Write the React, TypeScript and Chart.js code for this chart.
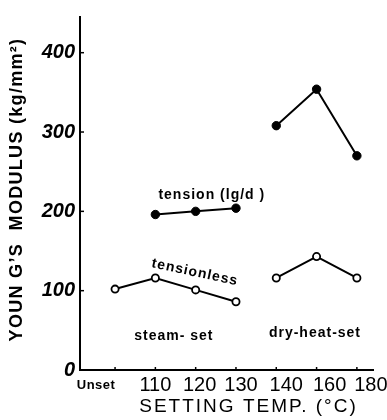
import { useEffect, useRef } from 'react';
import { Chart, registerables } from 'chart.js';

Chart.register(...registerables);

// ---- data ----
const categories = ['Unset', '110', '120', '130', '140', '160', '180'];
const yTicks = [0, 100, 200, 300, 400];

const tensionSteamX = [1, 2, 3];
const tensionSteam = [196, 200, 204];
const tensionDryX = [4, 5, 6];
const tensionDry = [308, 354, 270];

const tensionlessSteamX = [0, 1, 2, 3];
const tensionlessSteam = [102, 116, 101, 86];
const tensionlessDryX = [4, 5, 6];
const tensionlessDry = [116, 143, 116];

// annotation texts anchored in data coordinates (x = category index, y = value)
const annotationTexts = ['tension (lg/d )', 'tensionless', 'steam- set', 'dry-heat-set'];
const annotationX = [2.4, 1.98, 1.46, 4.96];
const annotationY = [220, 123, 43, 46];
const annotationRot = [0, 12, 0, 0];

// x-label nudges (px) so the tick texts sit as in the figure
const xLabelShift = [-19, 0, 4, 5, 10, 13, 14];

const xTitle = 'SETTING TEMP. (\u00b0C)';
const yTitle = 'YOUN G\u2019S  MODULUS (kg/mm\u00b2)';

const pts = (xs: number[], ys: number[]) => xs.map((x, i) => ({ x, y: ys[i] }));

const FONT = "'Liberation Sans', Arial, sans-serif";

const filled = {
  borderColor: '#000',
  backgroundColor: '#000',
  borderWidth: 2,
  pointRadius: 4.2,
  pointBackgroundColor: '#000',
  pointBorderColor: '#000',
  pointBorderWidth: 1,
  showLine: true,
};
const open = {
  borderColor: '#000',
  backgroundColor: '#fff',
  borderWidth: 2,
  pointRadius: 3.6,
  pointBackgroundColor: '#fff',
  pointBorderColor: '#000',
  pointBorderWidth: 1.8,
  showLine: true,
};

const decorPlugin = {
  id: 'decor',
  afterDraw(chart: any) {
    const { ctx, scales, chartArea } = chart;
    const xs = scales.x;
    const ys = scales.y;
    ctx.save();
    ctx.strokeStyle = '#000';
    ctx.lineWidth = 1.5;
    // inner tick marks
    categories.forEach((_, i) => {
      const px = xs.getPixelForValue(i);
      ctx.beginPath();
      ctx.moveTo(px, chartArea.bottom);
      ctx.lineTo(px, chartArea.bottom - 3);
      ctx.stroke();
    });
    yTicks.forEach((v) => {
      const py = ys.getPixelForValue(v);
      ctx.beginPath();
      ctx.moveTo(chartArea.left, py);
      ctx.lineTo(chartArea.left + 4, py);
      ctx.stroke();
    });

    ctx.fillStyle = '#000';
    ctx.textAlign = 'center';
    ctx.textBaseline = 'middle';

    // x tick labels
    categories.forEach((c, i) => {
      const px = xs.getPixelForValue(i) + xLabelShift[i];
      if (i === 0) {
        ctx.font = `bold 13px ${FONT}`;
        (ctx as any).letterSpacing = '0.5px';
      } else {
        ctx.font = `20px ${FONT}`;
        (ctx as any).letterSpacing = '0px';
      }
      ctx.fillText(c, px, chartArea.bottom + 15);
    });

    // annotations
    ctx.font = `bold 14px ${FONT}`;
    (ctx as any).letterSpacing = '1px';
    annotationTexts.forEach((t, i) => {
      const px = xs.getPixelForValue(annotationX[i]);
      const py = ys.getPixelForValue(annotationY[i]);
      ctx.save();
      ctx.translate(px, py);
      ctx.rotate((annotationRot[i] * Math.PI) / 180);
      ctx.fillText(t, 0, 0);
      ctx.restore();
    });

    // x title
    ctx.font = `19px ${FONT}`;
    (ctx as any).letterSpacing = '2px';
    ctx.fillText(xTitle, (chartArea.left + chartArea.right) / 2 + 22, chartArea.bottom + 37);

    // y title
    ctx.font = `bold 18px ${FONT}`;
    (ctx as any).letterSpacing = '1.3px';
    ctx.save();
    ctx.translate(17, (chartArea.top + chartArea.bottom) / 2 - 4);
    ctx.rotate(-Math.PI / 2);
    ctx.fillText(yTitle, 0, 0);
    ctx.restore();

    ctx.restore();
  },
};

export default function App() {
  const ref = useRef<HTMLCanvasElement | null>(null);
  useEffect(() => {
    document.body.style.margin = '0';
    const canvas = ref.current!;
    const chart = new Chart(canvas, {
      type: 'scatter',
      data: {
        datasets: [
          { ...filled, data: pts(tensionSteamX, tensionSteam) },
          { ...filled, data: pts(tensionDryX, tensionDry) },
          { ...open, data: pts(tensionlessSteamX, tensionlessSteam) },
          { ...open, data: pts(tensionlessDryX, tensionlessDry) },
        ],
      } as any,
      options: {
        animation: false,
        responsive: false,
        maintainAspectRatio: false,
        layout: { padding: { top: 7, right: 14, left: 0, bottom: 0 } },
        plugins: { legend: { display: false }, tooltip: { enabled: false } },
        scales: {
          x: {
            type: 'linear',
            min: -0.87,
            max: 6.4,
            afterBuildTicks: (s: any) => {
              s.ticks = categories.map((_, i) => ({ value: i }));
            },
            afterFit: (s: any) => {
              s.height = 50;
            },
            grid: { display: false, drawTicks: false },
            border: { display: true, color: '#000', width: 2 },
            ticks: { display: false },
          },
          y: {
            type: 'linear',
            min: 0,
            max: 445,
            afterBuildTicks: (s: any) => {
              s.ticks = yTicks.map((v) => ({ value: v }));
            },
            afterFit: (s: any) => {
              s.width = 80;
            },
            grid: { display: false, drawTicks: false },
            border: { display: true, color: '#000', width: 2 },
            ticks: {
              padding: 5,
              color: '#000',
              font: { family: FONT, size: 20, weight: 'bold', style: 'italic' },
            },
          },
        },
      } as any,
      plugins: [decorPlugin],
    });
    return () => chart.destroy();
  }, []);
  return <canvas ref={ref} width={387} height={420} style={{ display: 'block' }} />;
}
